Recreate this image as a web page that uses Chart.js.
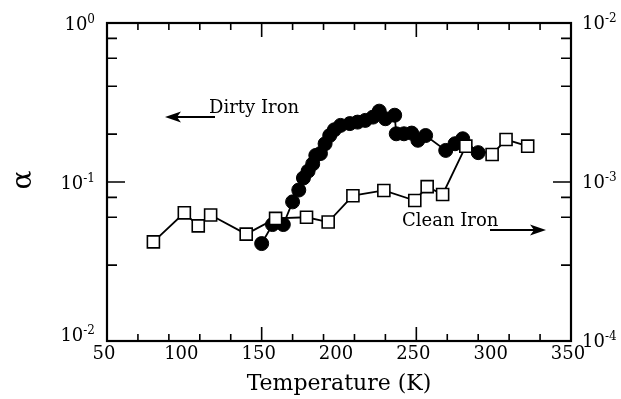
<!DOCTYPE html>
<html>
<head>
<meta charset="utf-8">
<script src="https://cdn.jsdelivr.net/npm/chart.js@4.4.0/dist/chart.umd.min.js"></script>
<style>
  html, body { margin: 0; padding: 0; background: #fff; }
  #wrap { width: 621px; height: 399px; }
</style>
</head>
<body>
<div id="wrap"><canvas id="chart" width="621" height="399"></canvas></div>
<script>
// Dirty iron, left axis (alpha)
const dirtyTemp = [150, 157, 164, 170, 174, 177, 180, 183, 185, 188, 191, 194, 197, 201, 207, 212, 217, 222, 226, 230, 236, 237, 242, 247, 251, 256, 269, 275, 280, 290]
const dirtyAlpha = [0.041, 0.054, 0.054, 0.075, 0.089, 0.106, 0.117, 0.130, 0.147, 0.151, 0.174, 0.196, 0.213, 0.227, 0.233, 0.238, 0.244, 0.256, 0.279, 0.250, 0.263, 0.201, 0.201, 0.203, 0.183, 0.196, 0.158, 0.174, 0.187, 0.153]

// Clean iron, right axis
const cleanTemp = [80, 100, 109, 117, 140, 159, 179, 193, 209, 229, 249, 257, 267, 282, 299, 308, 322]
const cleanAlpha = [4.2e-4, 6.4e-4, 5.3e-4, 6.2e-4, 4.7e-4, 5.9e-4, 6.0e-4, 5.6e-4, 8.2e-4, 8.85e-4, 7.65e-4, 9.35e-4, 8.35e-4, 1.68e-3, 1.49e-3, 1.85e-3, 1.68e-3]

// tick labels
const xTicks = [50, 100, 150, 200, 250, 300, 350]
const leftTickVals = [1, 0.1, 0.01]
const leftTickExp = ['0', '-1', '-2']
const rightTickVals = [1e-2, 1e-3, 1e-4]
const rightTickExp = ['-2', '-3', '-4']

const FONT = '"DejaVu Serif", "Liberation Serif", serif'

const drawPow = (ctx, exp, xPos, yPos, align) => {
    ctx.font = '18px ' + FONT
    const wb = ctx.measureText('10').width
    ctx.font = '12px ' + FONT
    const we = ctx.measureText(exp).width
    const x0 = align === 'right' ? xPos - wb - we : xPos
    ctx.textAlign = 'left'
    ctx.textBaseline = 'alphabetic'
    ctx.font = '18px ' + FONT
    ctx.fillText('10', x0, yPos + 6)
    ctx.font = '12px ' + FONT
    ctx.fillText(exp, x0 + wb, yPos - 1)
}

const drawArrow = (ctx, x1, y, x2) => {
    const dir = x2 > x1 ? 1 : -1
    ctx.lineWidth = 2
    ctx.beginPath()
    ctx.moveTo(x1, y)
    ctx.lineTo(x2 - dir * 10, y)
    ctx.stroke()
    ctx.beginPath()
    ctx.moveTo(x2, y)
    ctx.lineTo(x2 - dir * 16, y - 5.5)
    ctx.lineTo(x2 - dir * 12, y)
    ctx.lineTo(x2 - dir * 16, y + 5.5)
    ctx.closePath()
    ctx.fill()
}

const frameTicks = {
    id: 'frameTicks',
    afterDraw(chart) {
        const { ctx, chartArea: a, scales } = chart
        const x = scales.x, yl = scales.y, yr = scales.y2
        ctx.save()
        ctx.strokeStyle = '#000'
        ctx.fillStyle = '#000'

        // box
        ctx.lineWidth = 2.2
        ctx.strokeRect(a.left, a.top, a.right - a.left, a.bottom - a.top)

        // inward ticks
        ctx.lineWidth = 1.6
        ctx.beginPath()
        x.ticks.forEach(t => {
            const px = x.getPixelForValue(t.value)
            if (px <= a.left + 1 || px >= a.right - 1) return
            const len = t.value % 50 === 0 ? 14 : 7
            ctx.moveTo(px, a.bottom)
            ctx.lineTo(px, a.bottom - len)
            ctx.moveTo(px, a.top)
            ctx.lineTo(px, a.top + len)
        })
        ;[[yl, a.left, 1], [yr, a.right, -1]].forEach(([s, x0, dir]) => {
            s.ticks.forEach(t => {
                const py = s.getPixelForValue(t.value)
                if (py <= a.top + 1 || py >= a.bottom - 1) return
                const e = Math.log10(t.value)
                const len = Math.abs(e - Math.round(e)) < 1e-6 ? 18 : 10
                ctx.moveTo(x0, py)
                ctx.lineTo(x0 + dir * len, py)
            })
        })
        ctx.stroke()

        // x tick labels
        ctx.font = '18px ' + FONT
        ctx.textAlign = 'center'
        ctx.textBaseline = 'middle'
        xTicks.forEach(v => ctx.fillText(String(v), x.getPixelForValue(v) - 3, a.bottom + 13))

        // y tick labels
        leftTickVals.forEach((v, i) => {
            const py = Math.min(yl.getPixelForValue(v) + 1, a.bottom - 6)
            drawPow(ctx, leftTickExp[i], a.left - 12, py, 'right')
        })
        rightTickVals.forEach((v, i) => {
            drawPow(ctx, rightTickExp[i], a.right + 11, yr.getPixelForValue(v), 'left')
        })

        // axis titles
        ctx.font = '22px ' + FONT
        ctx.textAlign = 'center'
        ctx.textBaseline = 'middle'
        ctx.fillText('Temperature (K)', (a.left + a.right) / 2, 384)
        ctx.save()
        ctx.translate(24, 180)
        ctx.rotate(-Math.PI / 2)
        ctx.font = '28px ' + FONT
        ctx.fillText('α', 0, 0)
        ctx.restore()

        // annotations
        ctx.font = '18px ' + FONT
        ctx.textAlign = 'left'
        ctx.textBaseline = 'alphabetic'
        ctx.fillText('Dirty Iron', 209, 113)
        ctx.fillText('Clean Iron', 402, 226)
        drawArrow(ctx, 215, 117, 165)
        drawArrow(ctx, 490, 230, 546)
        ctx.restore()
    }
}

const chart = new Chart(document.getElementById('chart'), {
    type: 'line',
    data: {
        datasets: [{
            label: 'Clean Iron',
            data: cleanTemp.map((t, i) => ({ x: t, y: cleanAlpha[i] })),
            yAxisID: 'y2',
            order: 0,
            borderColor: '#000',
            borderWidth: 1.8,
            pointStyle: 'rect',
            pointRadius: 8.5,
            pointBackgroundColor: '#fff',
            pointBorderColor: '#000',
            pointBorderWidth: 1.6,
            tension: 0
        }, {
            label: 'Dirty Iron',
            data: dirtyTemp.map((t, i) => ({ x: t, y: dirtyAlpha[i] })),
            yAxisID: 'y',
            order: 1,
            borderColor: '#000',
            borderWidth: 1.8,
            pointStyle: 'circle',
            pointRadius: 7,
            pointBackgroundColor: '#000',
            pointBorderColor: '#000',
            pointBorderWidth: 1,
            tension: 0
        }]
    },
    options: {
        responsive: false,
        animation: false,
        devicePixelRatio: 1,
        layout: { padding: { left: 107, right: 50, top: 23, bottom: 58 } },
        plugins: { legend: { display: false }, tooltip: { enabled: false } },
        scales: {
            x: { type: 'linear', min: 50, max: 350, display: false, ticks: { stepSize: 10 } },
            y: { type: 'logarithmic', position: 'left', min: 0.01, max: 1, display: false },
            y2: { type: 'logarithmic', position: 'right', min: 1e-4, max: 1e-2, display: false }
        }
    },
    plugins: [frameTicks]
})
</script>
</body>
</html>
